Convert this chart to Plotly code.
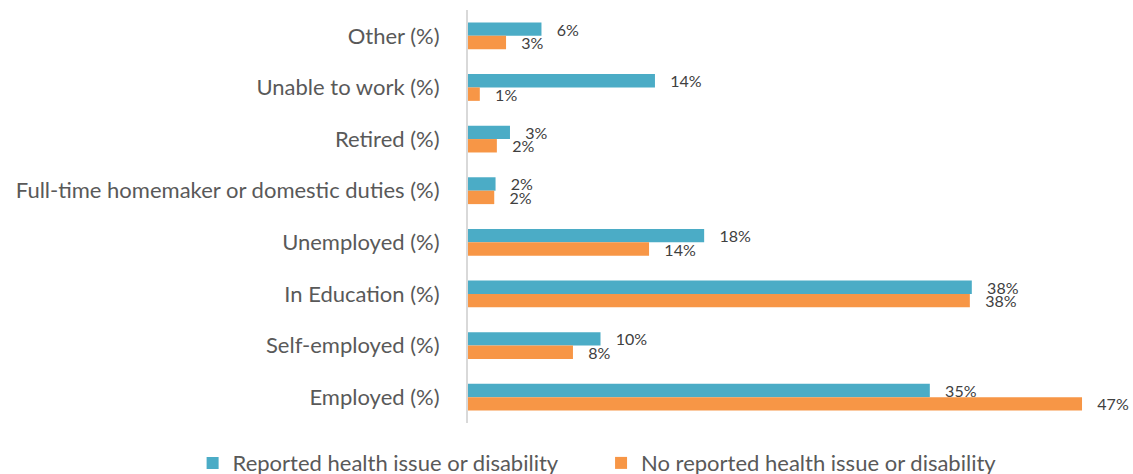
import plotly.graph_objects as go

categories = [
    "Other (%)",
    "Unable to work (%)",
    "Retired (%)",
    "Full-time homemaker or domestic duties (%)",
    "Unemployed (%)",
    "In Education (%)",
    "Self-employed (%)",
    "Employed (%)",
]
reported = [5.6, 14.25, 3.2, 2.1, 18.0, 38.4, 10.1, 35.2]
not_reported = [2.9, 0.9, 2.2, 2.0, 13.8, 38.25, 8.0, 46.8]
series_names = ["Reported health issue or disability", "No reported health issue or disability"]
colors = ["#4BACC6", "#F79646"]

FONT = "Lato"
pad = "\u00a0\u00a0\u00a0"

fig = go.Figure()
for i, (name, vals, col) in enumerate(zip(series_names, [reported, not_reported], colors)):
    fig.add_trace(go.Bar(
        y=categories, x=vals, name=name, orientation="h",
        marker=dict(color=col, line=dict(width=0)),
        text=[f"{pad}{round(v):.0f}%" for v in vals],
        textposition="outside", constraintext="none", cliponaxis=False,
        textfont=dict(family=FONT, size=16, color="#404040"),
        legend="legend" if i == 0 else "legend2",
    ))

legend_common = dict(orientation="h", xref="container", yref="container",
                     y=0.023, yanchor="middle", xanchor="left",
                     font=dict(family=FONT, size=22, color="#595959"),
                     itemwidth=30, bgcolor="rgba(0,0,0,0)")

fig.update_layout(
    width=1133, height=474,
    margin=dict(l=468, r=9, t=10, b=51),
    plot_bgcolor="white", paper_bgcolor="white",
    barmode="group", bargap=0.48, bargroupgap=0,
    showlegend=True,
    legend=dict(x=0.170, **legend_common),
    legend2=dict(x=0.5305, **legend_common),
    font=dict(family=FONT),
)
fig.update_xaxes(range=[0, 50], showgrid=False, zeroline=False, showticklabels=False,
                 showline=False, fixedrange=True, automargin=False)
fig.update_yaxes(autorange="reversed", showgrid=False, zeroline=False, automargin=False,
                 showline=True, linecolor="#D9D9D9", linewidth=2, fixedrange=True,
                 ticks="outside", ticklen=22, tickcolor="rgba(0,0,0,0)",
                 tickfont=dict(family=FONT, size=22, color="#595959"))

fig.write_html("out.html", config={"displayModeBar": False},
               post_script="document.body.style.margin='0';")
